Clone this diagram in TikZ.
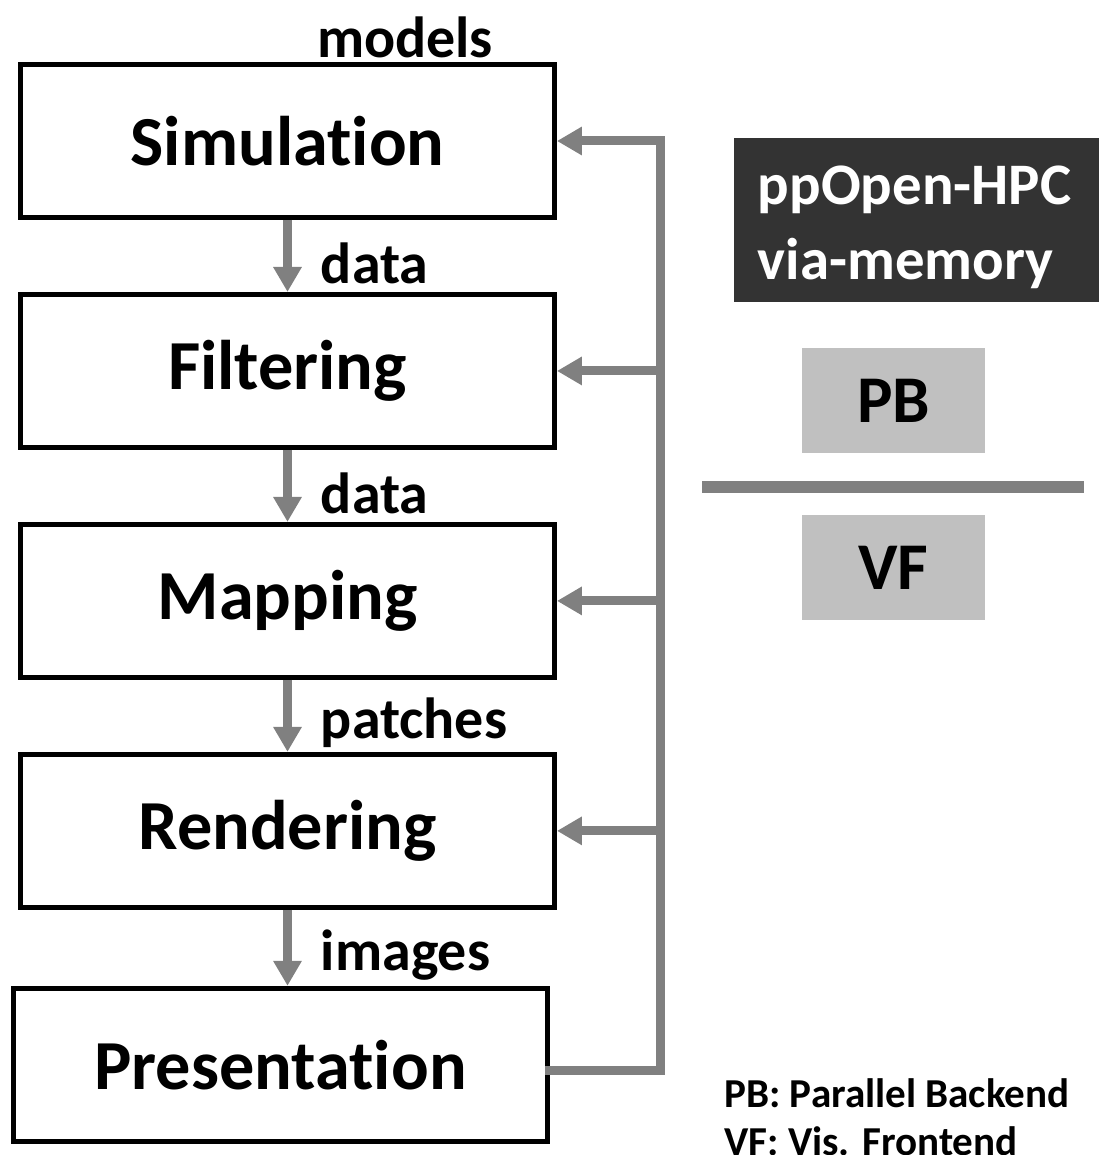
\documentclass[tikz,border=0pt]{standalone}
\usepackage{fontspec}
\setmainfont{Carlito}[Ligatures=NoCommon]
\usetikzlibrary{positioning,arrows.meta}

\definecolor{flowgray}{HTML}{808080}
\definecolor{hpcdark}{HTML}{333333}
\definecolor{tagfill}{HTML}{C0C0C0}

\begin{document}
\begin{tikzpicture}[x=0.02cm, y=-0.02cm, node distance=1.44cm,
    stage/.style={draw, line width=0.1cm, rectangle, minimum width=10.68cm, minimum height=3.06cm,
      font=\fontsize{40}{48}\selectfont\bfseries},
    flow/.style={draw=flowgray, line width=0.18cm, -{Triangle[length=0.5cm, width=0.54cm]}},
    feed/.style={draw=flowgray, line width=0.18cm, line cap=rect},
    lbl/.style={anchor=west, inner sep=0pt, xshift=0.58cm, yshift=-0.14cm,
      font=\fontsize{33}{40}\selectfont\bfseries},
    tag/.style={fill=tagfill, minimum width=3.66cm, minimum height=2.1cm,
      font=\fontsize{38}{45}\selectfont\bfseries}]
  \useasboundingbox (0,0) rectangle (1099,1155);

  % pipeline
  \node[stage] (sim) at (287.5,141) {Simulation};
  \node[stage, below=of sim] (filt) {Filtering};
  \node[stage, below=of filt] (map) {Mapping};
  \node[stage, below=of map] (rend) {Rendering};
  \node[stage, below=1.52cm of rend, xshift=-0.14cm] (pres) {Presentation};
  \node[font=\fontsize{33}{40}\selectfont\bfseries, inner sep=0pt] (models) at (405,37) {models};

  \draw[flow] (sim) -- node[lbl] {data} (filt);
  \draw[flow] (filt) -- node[lbl] {data} (map);
  \draw[flow] (map) -- node[lbl] {patches} (rend);
  \draw[flow] (rend.south) -- node[lbl] {images} (rend.south |- pres.north);

  % feedback
  \coordinate (bus) at (660,0);
  \draw[feed] ([yshift=-0.12cm]pres.east) -| (sim.east -| bus);
  \foreach \s in {sim,filt,map,rend}
    \draw[flow] (\s.east -| bus) -- (\s.east);

  % right side
  \node[fill=hpcdark, minimum width=7.3cm, minimum height=3.28cm] (hpc) at (916.5,220) {};
  \node[text=white, align=left, inner sep=0pt, font=\fontsize{33.5}{42.5}\selectfont\bfseries]
    (hpctext) at ([xshift=-0.04cm, yshift=-0.14cm]hpc.center) {ppOpen-HPC\\via-memory};
  \node[tag] (pb) at (893.5,400.5) {PB};
  \node[tag] (vf) at (893.5,567.5) {VF};
  \draw[flowgray, line width=0.24cm] (702,487) -- (1084,487);

  \node[anchor=north west, align=left, inner sep=0pt,
    font=\fontsize{23.4}{27.5}\selectfont\bfseries] (legend) at (724,1078)
    {PB: Parallel Backend\\VF: Vis. Frontend};
\end{tikzpicture}
\end{document}
